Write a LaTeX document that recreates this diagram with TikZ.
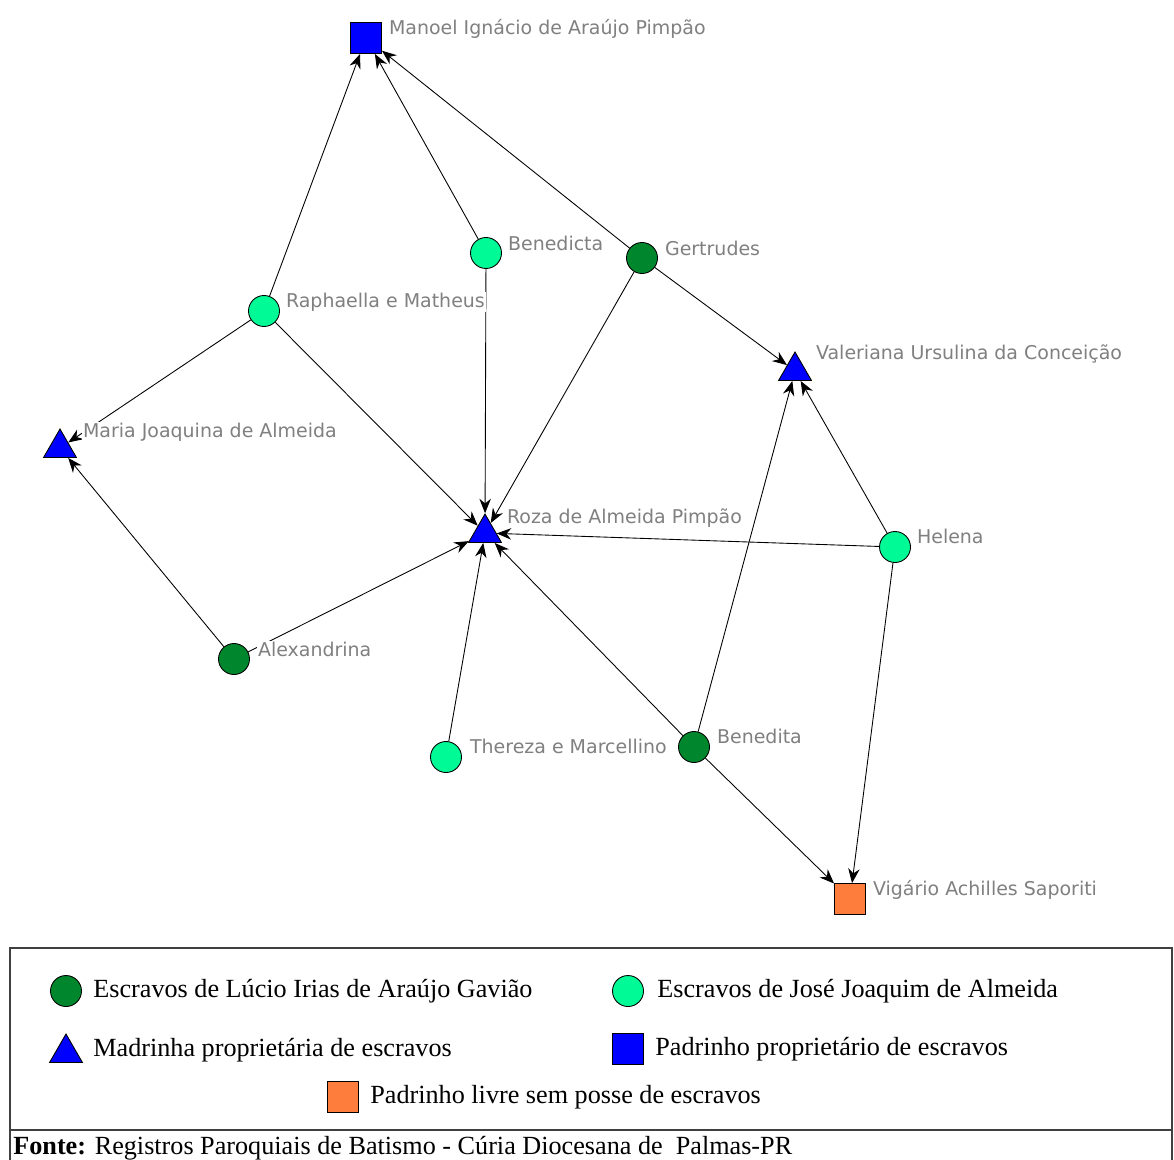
\documentclass[tikz,border=0pt]{standalone}
\usepackage{fontspec}
\usepackage{tikz}
\usetikzlibrary{arrows.meta, positioning, shapes.geometric, backgrounds}
\newfontfamily\lblfont{DejaVu Sans}
\newfontfamily\legfont{Liberation Serif}
\definecolor{escLucio}{RGB}{0,135,45}
\definecolor{escJose}{RGB}{0,250,150}
\definecolor{padLivre}{RGB}{255,125,60}
\tikzstyle{lucio}=[draw, shape=circle, fill=escLucio, minimum size=6.2mm, inner sep=0pt, line width=0.5pt]
\tikzstyle{jose}=[lucio, fill=escJose]
\tikzstyle{madr}=[draw, shape=regular polygon, regular polygon sides=3, fill=blue, minimum size=7.6mm, inner sep=0pt, line width=0.5pt]
\tikzstyle{padr}=[draw, shape=rectangle, fill=blue, minimum size=6.2mm, inner sep=0pt, line width=0.5pt]
\tikzstyle{livre}=[padr, fill=padLivre]
\tikzstyle{lbl}=[anchor=base west, fill=white, inner sep=0.4pt, text=gray, font=\lblfont\fontsize{10.8}{12}\selectfont]
\tikzstyle{leg}=[anchor=west, inner sep=0pt, font=\legfont\fontsize{14.9}{17}\selectfont]
\tikzstyle{frame}=[line width=0.45mm, black!75]
\tikzset{>={Stealth[length=2.9mm, width=2.3mm]}}

\begin{document}
\begin{tikzpicture}[x=0.2mm, y=-0.2mm]
\useasboundingbox (0,0) rectangle (1174,1159);
% padrinhos e madrinhas
\node[padr] (manoel) at (366,38) {};
\node[madr] (valeriana) at (795,371) {};
\node[madr] (maria) at (60,448) {};
\node[madr] (roza) at (485,533) {};
\node[livre] (vigario) at (850,899) {};
% escravos
\node[jose] (benedicta) at (486,253) {};
\node[lucio] (gertrudes) at (642,258) {};
\node[jose] (raphaella) at (264,311) {};
\node[jose] (helena) at (895,547) {};
\node[lucio] (alexandrina) at (234,659) {};
\node[jose] (thereza) at (446,757) {};
\node[lucio] (benedita) at (694,747) {};
%
\node[lbl] (lmanoel) at (388,35) {Manoel Ignácio de Araújo Pimpão};
\node[lbl] (lvaleriana) at (815,359) {Valeriana Ursulina da Conceição};
\node[lbl] (lmaria) at (82,437) {Maria Joaquina de Almeida};
\node[lbl] (lroza) at (506,523) {Roza de Almeida Pimpão};
\node[lbl] (lvigario) at (872,895) {Vigário Achilles Saporiti};
\node[lbl] (lbenedicta) at (507,250) {Benedicta};
\node[lbl] (lgertrudes) at (664,255) {Gertrudes};
\node[lbl] (lraphaella) at (285,307) {Raphaella e Matheus};
\node[lbl] (lhelena) at (916,543) {Helena};
\node[lbl] (lalexandrina) at (257,656) {Alexandrina};
\node[lbl] (lthereza) at (469,753) {Thereza e Marcellino};
\node[lbl] (lbenedita) at (716,743) {Benedita};
%
\begin{scope}[on background layer]
\foreach \a/\b in {raphaella/manoel, benedicta/manoel, gertrudes/manoel,
  gertrudes/valeriana, gertrudes/roza, benedicta/roza, raphaella/roza,
  raphaella/maria, alexandrina/maria, alexandrina/roza, thereza/roza,
  benedita/roza, benedita/valeriana, benedita/vigario,
  helena/roza, helena/valeriana, helena/vigario}
{
\draw[->, line width=0.5pt] (\a) -- (\b);
}
\end{scope}
%
% legenda
\draw[frame] (10,948) rectangle (1172,1175);
\draw[frame] (10,1130) -- (1172,1130);
\node[lucio] (klucio) at (66,991) {};
\node[leg] (tlucio) at (93,991) {Escravos de Lúcio Irias de Araújo Gavião};
\node[jose] (kjose) at (628,991) {};
\node[leg] (tjose) at (657,991) {Escravos de José Joaquim de Almeida};
\node[madr] (kmadr) at (66,1053) {};
\node[leg] (tmadr) at (93,1050) {Madrinha proprietária de escravos};
\node[padr] (kpadr) at (628,1049) {};
\node[leg] (tpadr) at (655,1049) {Padrinho proprietário de escravos};
\node[livre] (klivre) at (343,1097) {};
\node[leg] (tlivre) at (370,1097) {Padrinho livre sem posse de escravos};
\node[leg, anchor=base west] (fonte) at (13,1154) {\textbf{Fonte:} Registros Paroquiais de Batismo - Cúria Diocesana de~~Palmas-PR};
%
\end{tikzpicture}
\end{document}
